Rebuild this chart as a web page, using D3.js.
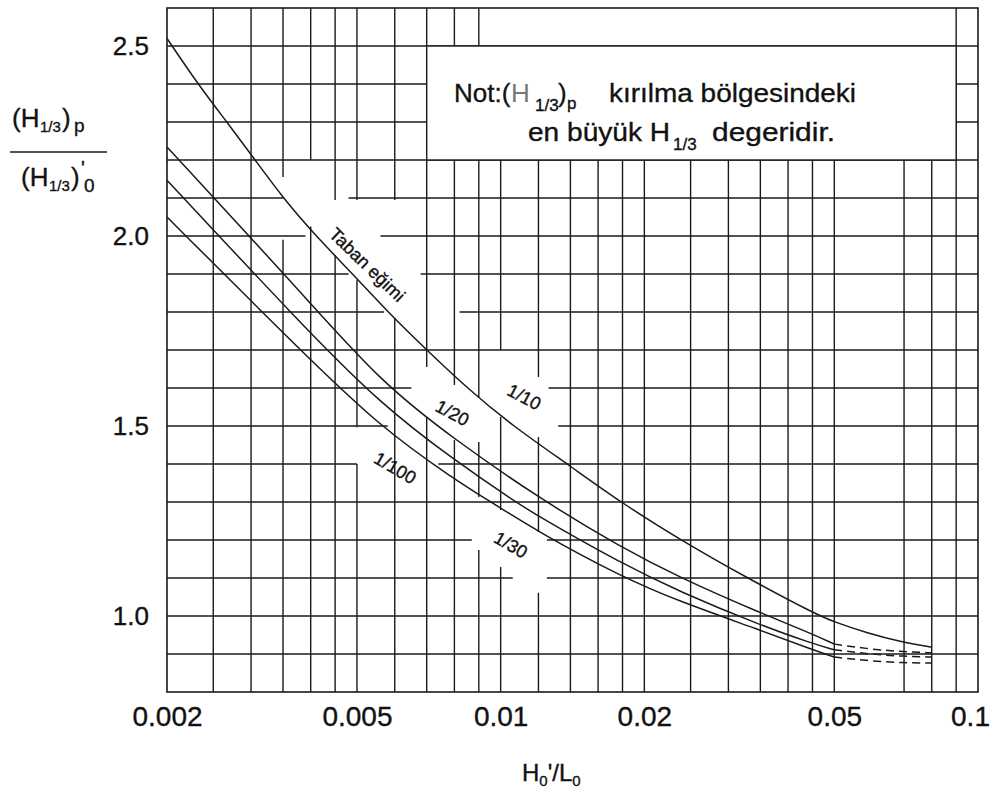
<!DOCTYPE html>
<html>
<head>
<meta charset="utf-8">
<script src="https://cdn.jsdelivr.net/npm/d3@7/dist/d3.min.js"></script>
<style>
  body { margin: 0; background: #fff; }
  svg { display: block; }
  text { font-family: "Liberation Sans", Arial, sans-serif; fill: #111; stroke: #111; stroke-width: 0.35px; }
</style>
</head>
<body>
<svg id="chart" width="994" height="791"></svg>
<script>
// ---- axis ticks ----
const xTickValues = [0.002, 0.005, 0.01, 0.02, 0.05, 0.1];
const xTickLabels = ["0.002", "0.005", "0.01", "0.02", "0.05", "0.1"];
const yTickValues = [1.0, 1.5, 2.0, 2.5];
const yTickLabels = ["1.0", "1.5", "2.0", "2.5"];

// ---- grid (log steepness lines, ratio lines every 0.1) ----
const gridXValues = [0.0025, 0.003, 0.0035, 0.004, 0.0045, 0.005, 0.006, 0.007, 0.008, 0.009,
                     0.01, 0.012, 0.014, 0.016, 0.018, 0.02, 0.025, 0.03, 0.035, 0.04, 0.045,
                     0.05, 0.07, 0.08, 0.09];
const gridYValues = [0.9, 1.0, 1.1, 1.2, 1.3, 1.4, 1.5, 1.6, 1.7, 1.8, 1.9, 2.0, 2.1, 2.2, 2.3, 2.4, 2.5];
// vertical lines that stop at the note box (open top row)
const shortVerticals = [0.01, 0.012, 0.014, 0.016, 0.018, 0.02, 0.025, 0.03, 0.035, 0.04, 0.045, 0.05, 0.07, 0.08];
// breaks in the grid around the curve labels: [x, ratio from, ratio to]
const verticalBreaks = [
  [0.0035, 2.155, 1.99], [0.004, 2.2, 2.025], [0.0045, 2.095, 1.95],
  [0.005, 2.095, 1.884], [0.005, 1.497, 1.40], [0.006, 2.095, 1.784], [0.007, 1.655, 1.524],
  [0.008, 1.608, 1.463], [0.009, 1.576, 1.458], [0.009, 1.313, 1.174],
  [0.01, 1.70, 1.524], [0.01, 1.279, 1.129], [0.012, 1.629, 1.471], [0.012, 1.221, 1.061]
];
// [ratio, steepness from, steepness to]
const horizontalBreaks = [
  [2.1, 0.0035, 0.0048], [2.0, 0.0039, 0.0056], [1.9, 0.0048, 0.0068],
  [1.8, 0.0057, 0.0082], [1.6, 0.0065, 0.0126], [1.5, 0.0058, 0.0132],
  [1.4, 0.0050, 0.0074], [1.2, 0.0087, 0.0125], [1.1, 0.0106, 0.0125]
];

// ---- design curves: [H0'/L0, (H1/3)p / (H1/3)'0] ----
const slope10 = [[0.002, 2.52], [0.00232, 2.40], [0.00267, 2.30], [0.00306, 2.20], [0.0035, 2.10],
  [0.0041, 2.00], [0.0049, 1.90], [0.0058, 1.80], [0.0070, 1.70], [0.0085, 1.60], [0.0106, 1.50],
  [0.0138, 1.40], [0.0178, 1.30], [0.0238, 1.20], [0.0334, 1.095], [0.0452, 1.008], [0.05, 0.984],
  [0.0587, 0.955], [0.0688, 0.932], [0.08, 0.918]];
const slope20 = [[0.002, 2.234], [0.0038, 1.855], [0.0056, 1.616], [0.008, 1.465], [0.012, 1.311],
  [0.0178, 1.182], [0.0238, 1.10], [0.035, 1.008], [0.0446, 0.955], [0.05, 0.926]];
const slope30 = [[0.002, 2.147], [0.0038, 1.771], [0.0056, 1.558], [0.008, 1.41], [0.0106, 1.305],
  [0.012, 1.262], [0.0178, 1.14], [0.0238, 1.063], [0.035, 0.976], [0.0446, 0.929], [0.05, 0.911]];
const slope100 = [[0.002, 2.05], [0.0038, 1.70], [0.0056, 1.497], [0.008, 1.36], [0.0094, 1.305],
  [0.012, 1.221], [0.0178, 1.105], [0.0238, 1.037], [0.035, 0.963], [0.0446, 0.913], [0.05, 0.892]];
// uncertain continuation beyond 0.05 (dashed)
const slope20Tail = [[0.05, 0.926], [0.06, 0.912], [0.07, 0.906], [0.08, 0.903]];
const slope30Tail = [[0.05, 0.911], [0.06, 0.899], [0.07, 0.894], [0.08, 0.892]];
const slope100Tail = [[0.05, 0.892], [0.06, 0.881], [0.07, 0.877], [0.08, 0.876]];

// curve labels: [text, steepness, ratio, angle]
const curveLabels = [
  ["Taban eğimi", 0.00525, 1.924, 44],
  ["1/10", 0.0112, 1.576, 28],
  ["1/20", 0.00792, 1.534, 28],
  ["1/100", 0.00601, 1.389, 30],
  ["1/30", 0.0105, 1.187, 30]
];

// ---- scales ----
const svg = d3.select("#chart");
const x = d3.scaleLog().domain([0.002, 0.1]).range([167, 978]);
const y = d3.scaleLinear().domain([0.8, 2.6]).range([692, 8]);
const ink = "#1a1a1a";

// split a line extent by its breaks
function segments(lo, hi, breaks) {
  const sorted = breaks.map(b => [Math.min(b[0], b[1]), Math.max(b[0], b[1])]).sort((a, b) => a[0] - b[0]);
  const out = [];
  let start = lo;
  for (const [a, b] of sorted) {
    if (a > start) out.push([start, a]);
    start = Math.max(start, b);
  }
  if (start < hi) out.push([start, hi]);
  return out;
}

const grid = svg.append("g").attr("stroke", ink).attr("stroke-width", 1.4).attr("fill", "none");

gridXValues.forEach(v => {
  const top = shortVerticals.includes(v) ? 2.2 : 2.6;
  const br = verticalBreaks.filter(b => b[0] === v).map(b => [b[2], b[1]]);
  segments(0.8, top, br).forEach(([a, b]) => {
    grid.append("line").attr("x1", x(v)).attr("x2", x(v)).attr("y1", y(a)).attr("y2", y(b));
  });
});
gridYValues.forEach(v => {
  const br = horizontalBreaks.filter(b => b[0] === v).map(b => [b[1], b[2]]);
  segments(0.002, 0.1, br).forEach(([a, b]) => {
    grid.append("line").attr("y1", y(v)).attr("y2", y(v)).attr("x1", x(a)).attr("x2", x(b));
  });
});

// plot frame
svg.append("rect")
  .attr("x", x(0.002)).attr("y", y(2.6))
  .attr("width", x(0.1) - x(0.002)).attr("height", y(0.8) - y(2.6))
  .attr("fill", "none").attr("stroke", ink).attr("stroke-width", 1.6);

// note box
svg.append("rect")
  .attr("x", x(0.007)).attr("y", y(2.5))
  .attr("width", x(0.09) - x(0.007)).attr("height", y(2.2) - y(2.5))
  .attr("fill", "#fff").attr("stroke", ink).attr("stroke-width", 1.4);

const note = svg.append("g").attr("font-size", 26);
note.append("text").attr("x", 454).attr("y", 102).text("Not:(");
note.append("text").attr("x", 511).attr("y", 102)
  .style("fill", "#777").style("stroke", "none").text("H");
note.append("text").attr("x", 535).attr("y", 111).attr("font-size", 17).text("1/3");
note.append("text").attr("x", 558).attr("y", 102).text(")");
note.append("text").attr("x", 567).attr("y", 109).attr("font-size", 17).text("p");
note.append("text").attr("x", 609).attr("y", 102)
  .attr("textLength", 247).attr("lengthAdjust", "spacingAndGlyphs").text("kırılma bölgesindeki");
note.append("text").attr("x", 528).attr("y", 141)
  .attr("textLength", 142).attr("lengthAdjust", "spacingAndGlyphs").text("en büyük H");
note.append("text").attr("x", 673).attr("y", 150).attr("font-size", 17).text("1/3");
note.append("text").attr("x", 712).attr("y", 141)
  .attr("textLength", 123).attr("lengthAdjust", "spacingAndGlyphs").text("degeridir.");

// curves
const line = d3.line().x(d => x(d[0])).y(d => y(d[1])).curve(d3.curveBasis);
const curves = svg.append("g").attr("fill", "none").attr("stroke", ink).attr("stroke-width", 1.5);
[slope10, slope20, slope30, slope100].forEach(s => curves.append("path").attr("d", line(s)));
[slope20Tail, slope30Tail, slope100Tail].forEach(s =>
  curves.append("path").attr("d", line(s)).attr("stroke-dasharray", "8,5"));

// curve labels
curveLabels.forEach(([t, sx, sy, ang]) => {
  svg.append("text")
    .attr("transform", `translate(${x(sx)},${y(sy)}) rotate(${ang})`)
    .attr("text-anchor", "middle").attr("dominant-baseline", "central")
    .attr("font-size", 18).text(t);
});

// x axis
const xAxis = svg.append("g").attr("transform", `translate(0,${y(0.8)})`)
  .call(d3.axisBottom(x).tickValues(xTickValues).tickSize(0).tickPadding(14)
    .tickFormat((d, i) => xTickLabels[i]));
xAxis.select(".domain").remove();
xAxis.selectAll("text").attr("font-size", 28).attr("fill", ink)
  .style("font-family", '"Liberation Sans", Arial, sans-serif')
  .attr("dx", (d, i) => i === xTickValues.length - 1 ? -8 : 0);

// y axis
const yAxis = svg.append("g").attr("transform", `translate(${x(0.002)},0)`)
  .call(d3.axisLeft(y).tickValues(yTickValues).tickSize(0).tickPadding(18)
    .tickFormat((d, i) => yTickLabels[i]));
yAxis.select(".domain").remove();
yAxis.selectAll("text").attr("font-size", 26).attr("fill", ink)
  .style("font-family", '"Liberation Sans", Arial, sans-serif');

// y axis title: (H1/3)p over (H1/3)'0
const yt = svg.append("g");
yt.append("text").attr("x", 12).attr("y", 127).attr("font-size", 26).text("(H");
yt.append("text").attr("x", 40).attr("y", 132).attr("font-size", 15).text("1/3");
yt.append("text").attr("x", 62).attr("y", 127).attr("font-size", 26).text(")");
yt.append("text").attr("x", 74).attr("y", 132).attr("font-size", 19).text("p");
yt.append("line").attr("x1", 10).attr("x2", 107).attr("y1", 152).attr("y2", 152)
  .attr("stroke", ink).attr("stroke-width", 1.4);
yt.append("text").attr("x", 21).attr("y", 186).attr("font-size", 26).text("(H");
yt.append("text").attr("x", 49).attr("y", 191).attr("font-size", 15).text("1/3");
yt.append("text").attr("x", 71).attr("y", 186).attr("font-size", 26).text(")");
yt.append("text").attr("x", 81).attr("y", 175).attr("font-size", 20).text("'");
yt.append("text").attr("x", 84).attr("y", 192).attr("font-size", 19).text("0");

// x axis title: H0'/L0
const xt = svg.append("text").attr("x", 522).attr("y", 781).attr("font-size", 24);
xt.append("tspan").text("H");
xt.append("tspan").attr("font-size", 15).attr("dy", 5).text("0");
xt.append("tspan").attr("dy", -5).text("'/L");
xt.append("tspan").attr("font-size", 15).attr("dy", 5).text("0");
</script>
</body>
</html>
